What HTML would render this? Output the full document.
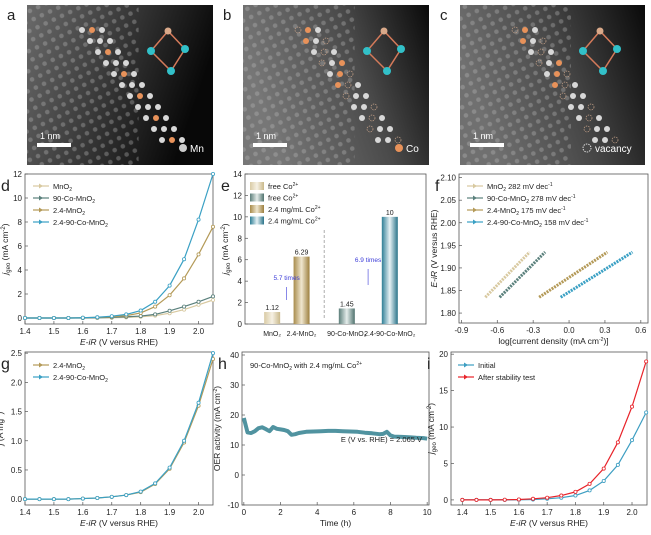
<!DOCTYPE html>
<html><head><meta charset="utf-8"><style>
body{margin:0;background:#fff;}
#wrap{position:relative;width:651px;height:535px;overflow:hidden;font-family:"Liberation Sans",sans-serif;}
svg text{font-family:"Liberation Sans",sans-serif;}
</style></head><body>
<div id="wrap">
<svg id="fig" width="651" height="535" viewBox="0 0 651 535" xmlns="http://www.w3.org/2000/svg">
<defs>
<linearGradient id="imgA" x1="0" y1="0" x2="1" y2="0.3"><stop offset="0" stop-color="#6a6a6a"/><stop offset="0.5" stop-color="#3a3a3a"/><stop offset="1" stop-color="#080808"/></linearGradient>
<linearGradient id="imgB" x1="0" y1="0.3" x2="1" y2="0"><stop offset="0" stop-color="#777"/><stop offset="0.55" stop-color="#4a4a4a"/><stop offset="1" stop-color="#0a0a0a"/></linearGradient>
<linearGradient id="imgC" x1="0" y1="0.3" x2="1" y2="0"><stop offset="0" stop-color="#707070"/><stop offset="0.5" stop-color="#454545"/><stop offset="1" stop-color="#0a0a0a"/></linearGradient>
<pattern id="lattice" width="9" height="9" patternUnits="userSpaceOnUse" patternTransform="rotate(-25)"><circle cx="4.5" cy="4.5" r="2.3" fill="#bbb" opacity="0.35"/></pattern>
<linearGradient id="barBeige" x1="0" x2="1"><stop offset="0" stop-color="#d9cba5"/><stop offset="0.5" stop-color="#f6f1e4"/><stop offset="1" stop-color="#c9b88a"/></linearGradient>
<linearGradient id="barGold" x1="0" x2="1"><stop offset="0" stop-color="#a88c4c"/><stop offset="0.5" stop-color="#efe6cf"/><stop offset="1" stop-color="#9c7f3e"/></linearGradient>
<linearGradient id="barGrey" x1="0" x2="1"><stop offset="0" stop-color="#5d7f7b"/><stop offset="0.5" stop-color="#e4ecea"/><stop offset="1" stop-color="#4f726e"/></linearGradient>
<linearGradient id="barBlue" x1="0" x2="1"><stop offset="0" stop-color="#2f7f96"/><stop offset="0.5" stop-color="#e6f1f4"/><stop offset="1" stop-color="#2a7389"/></linearGradient>
</defs>
<g id="root"></g>
</svg>
</div>
<script>
// ---------- data ----------
const vGrid = [1.40,1.45,1.50,1.55,1.60,1.65,1.70,1.75,1.80,1.85,1.90,1.95,2.00,2.05];
const dMnO2 = [0,0,0,0,0,0.01,0.02,0.05,0.1,0.2,0.4,0.7,1.1,1.5];
const d90Co = [0,0,0,0,0,0.02,0.05,0.1,0.16,0.3,0.6,0.95,1.35,1.8];
const d24Mn = [0,0,0,0,0.02,0.05,0.1,0.2,0.42,0.95,1.9,3.3,5.3,7.6];
const d2490 = [0,0,0,0,0.02,0.06,0.15,0.3,0.62,1.35,2.7,4.9,8.2,12];
const eCats = ["MnO\u2082","2.4-MnO\u2082","90-Co-MnO\u2082","2.4-90-Co-MnO\u2082"];
const eVals = [1.12,6.29,1.45,10];
const eLabels = ["1.12","6.29","1.45","10"];
const fMnO2 = [[-0.70,1.835],[-0.33,1.935]];
const f90Co = [[-0.58,1.835],[-0.20,1.935]];
const f24Mn = [[-0.25,1.835],[0.32,1.935]];
const f2490 = [[-0.07,1.835],[0.53,1.935]];
const g24Mn = [0,0,0,0,0.01,0.02,0.04,0.07,0.12,0.26,0.52,0.97,1.6,2.4];
const g2490 = [0,0,0,0,0.01,0.02,0.04,0.07,0.13,0.27,0.54,1.0,1.65,2.5];
const hTime = [0,0.2,0.4,0.6,0.8,1.0,1.2,1.4,1.6,1.8,2.0,2.2,2.4,2.6,2.8,3.0,3.4,3.8,4.2,4.6,5.0,5.4,5.8,6.2,6.6,7.0,7.4,7.6,7.8,8.0,8.2,8.6,9.0,9.4,9.8,10];
const hVals = [19,14.2,14.0,14.6,15.6,15.9,15.3,14.6,16.0,15.4,15.2,15.0,14.6,13.4,13.6,14.0,14.4,14.5,14.6,14.7,14.7,14.6,14.5,14.4,14.1,13.9,13.6,13.7,14.4,13.2,12.8,12.7,12.6,12.4,12.3,12.1];
const hTicksX = [0,2,4,6,8,10];
const hTicksY = [-10,0,10,20,30,40];
const iInit = [0,0,0,0,0.02,0.06,0.15,0.3,0.6,1.3,2.6,4.8,8.2,12];
const iAfter = [0,0,0,0.02,0.06,0.15,0.3,0.6,1.1,2.2,4.3,7.9,12.8,19];

const NS="http://www.w3.org/2000/svg";
const root=document.getElementById('root');
function mk(tag,attrs,parent){const e=document.createElementNS(NS,tag);for(const k in attrs)e.setAttribute(k,attrs[k]);(parent||root).appendChild(e);return e;}
function txt(x,y,s,size,parent,anchor,extra){const t=mk('text',Object.assign({x:x,y:y,'font-size':size,'text-anchor':anchor||'start',fill:'#222'},extra||{}),parent);t.innerHTML=s;return t;}
function scale(d0,d1,r0,r1){return v=>r0+(v-d0)/(d1-d0)*(r1-r0);}

// ---------- images a,b,c ----------
function micro(x,y,w,h,grad,name,letter,label,kind){
  const g=mk('g',{});
  
  
  mk('rect',{x:x,y:y,width:w,height:h,fill:'url(#'+grad+')'},g);
  mk('rect',{x:x,y:y,width:w*0.6,height:h,fill:'url(#lattice)'},g);
  for(let r=0;r<3;r++)for(let i=0;i<12;i++){
    const cx=x+55+r*10+i*8, cy=y+25+i*11;
    if(cx>x+w-10||cy>y+h-15)continue;
    const orange=(kind!=='a'&&(i+r)%4===1)||(kind==='a'&&r===1&&i%2===0);
    if(kind!=='a'&&(i+r)%3===0){mk('circle',{cx:cx,cy:cy,r:3,fill:'none',stroke:'#c9a48a','stroke-width':0.7,'stroke-dasharray':'1.5 1'},g);}
    else mk('circle',{cx:cx,cy:cy,r:3,fill:orange?'#e8925a':'#d8d8d8'},g);
  }
  const sx=x+w-70, sy=y+18;
  mk('path',{d:`M${sx+8} ${sy+28} L${sx+25} ${sy+8} L${sx+42} ${sy+26} L${sx+28} ${sy+48} Z`,fill:'none',stroke:'#d47a5a','stroke-width':1.5},g);
  mk('circle',{cx:sx+25,cy:sy+8,r:3.5,fill:'#d9a98a'},g);
  [[sx+8,sy+28],[sx+42,sy+26],[sx+28,sy+48]].forEach(p=>mk('circle',{cx:p[0],cy:p[1],r:4,fill:'#32c0c8'},g));
  mk('rect',{x:x+10,y:y+h-22,width:34,height:4,fill:'#fff'},g);
  txt(x+13,y+h-26,'1 nm',9,g,'start',{fill:'#fff'});
  if(kind==='c')mk('circle',{cx:x+w-58,cy:y+h-17,r:4,fill:'none',stroke:'#ddd','stroke-dasharray':'1.5 1'},g);
  else mk('circle',{cx:x+w-30,cy:y+h-17,r:4,fill:kind==='a'?'#ccc':'#e8925a'},g);
  txt(x+w-(kind==='c'?50:23),y+h-13,label,10,g,'start',{fill:'#fff'});
  const L=txt(x-20,y+15,letter,15,null);
  
  
}
micro(27,5,186,160,'imgA','stem-image-a','a','Mn','a');
micro(243,5,186,160,'imgB','stem-image-b','b','Co','b');
micro(460,5,185,160,'imgC','stem-image-c','c','vacancy','c');

// ---------- axes helper ----------
function axes(name,L,T,R,B,xd,yd,xt,yt,xfmt,yfmt,xtitle,ytitle,letter){
  const g=mk('g',{});
  
  
  mk('rect',{x:L,y:T,width:R-L,height:B-T,fill:'none',stroke:'#555','stroke-width':0.8},g);
  const sx=scale(xd[0],xd[1],L,R), sy=scale(yd[0],yd[1],B,T);
  xt.forEach(v=>{const X=sx(v);mk('line',{x1:X,y1:B,x2:X,y2:B-3,stroke:'#555','stroke-width':0.7},g);if(xfmt){txt(X,B+10,xfmt(v),8,g,'middle');}});
  yt.forEach(v=>{const Y=sy(v);mk('line',{x1:L,y1:Y,x2:L+3,y2:Y,stroke:'#555','stroke-width':0.7},g);txt(L-3,Y+3,yfmt(v),8,g,'end');});
  if(xtitle){const t=txt((L+R)/2,B+21,xtitle,8.5,g,'middle');}
  const yt2=txt(0,0,ytitle,8.5,g,'middle',{transform:`translate(${L-(yfmt(yt[0]).length>2?22:17)},${(T+B)/2}) rotate(-90)`});
  
  
  const lt=txt(L-24,T+17,letter,16,g);
  
  
  return {g,sx,sy};
}
function series(ax,xs,ys,color,name,marker){
  const pts=xs.map((x,i)=>ax.sx(x)+','+ax.sy(ys[i])).join(' ');
  const p=mk('polyline',{points:pts,fill:'none',stroke:color,'stroke-width':1.2},ax.g);
  
  
  if(marker!==false)xs.forEach((x,i)=>{const c=mk('circle',{cx:ax.sx(x),cy:ax.sy(ys[i]),r:1.6,fill:'#fff',stroke:color,'stroke-width':0.8},ax.g);
    
    });
}
function legend(ax,x,y,items,dy){
  items.forEach((it,i)=>{
    const Y=y+i*(dy||12);
    mk('line',{x1:x,y1:Y,x2:x+16,y2:Y,stroke:it[1],'stroke-width':1.2},ax.g);
    mk('path',{d:`M${x+6} ${Y-2.5} L${x+10} ${Y} L${x+6} ${Y+2.5} Z`,fill:it[1]},ax.g);
    const t=txt(x+20,Y+3,it[0],7.5,ax.g);
    
    
  });
}
const f1=v=>v.toFixed(1), f0=v=>String(v);
const vTicks=[1.4,1.5,1.6,1.7,1.8,1.9,2.0];
const C={mn:'#d8c9a0',co:'#5a807c',g24:'#b49a58',b:'#3aa0c4'};
const jg='<tspan font-style="italic">j</tspan><tspan font-size="6" dy="2">geo</tspan><tspan dy="-2"> (mA cm</tspan><tspan font-size="6" dy="-3">-2</tspan><tspan dy="3">)</tspan>';
const xv='<tspan font-style="italic">E</tspan>-<tspan font-style="italic">iR</tspan> (V versus RHE)';
const sub2='<tspan font-size="5" dy="2">2</tspan>';

// d
const ad=axes('chart-d',25,174,213,324,[1.4,2.05],[-0.5,12],vTicks,[0,2,4,6,8,10,12],f1,f0,xv,jg,'d');
series(ad,vGrid,dMnO2,C.mn,'series-d-mno2');
series(ad,vGrid,d90Co,C.co,'series-d-90co');
series(ad,vGrid,d24Mn,C.g24,'series-d-24mno2');
series(ad,vGrid,d2490,C.b,'series-d-2490');
legend(ad,33,186,[['MnO'+sub2,C.mn],['90-Co-MnO'+sub2,C.co],['2.4-MnO'+sub2,C.g24],['2.4-90-Co-MnO'+sub2,C.b]],12);

// e
const ae=axes('chart-e',245,174,426,324,[0,4],[0,14],[],[0,2,4,6,8,10,12,14],null,f0,null,jg,'e');
const barX=[0.6,1.25,2.25,3.2], fills=['barBeige','barGold','barGrey','barBlue'];
mk('line',{x1:ae.sx(1.75),y1:230,x2:ae.sx(1.75),y2:318,stroke:'#999','stroke-dasharray':'3 2','stroke-width':0.8},ae.g);
eVals.forEach((v,i)=>{
  const cx=ae.sx(barX[i]);
  const r=mk('rect',{x:cx-8,y:ae.sy(v),width:16,height:ae.sy(0)-ae.sy(v),fill:'url(#'+fills[i]+')'},ae.g);
  
  
  txt(cx,ae.sy(v)-2,eLabels[i],7,ae.g,'middle');
  const c=txt(cx,336,eCats[i],7,ae.g,'middle');
  
  
});
txt(ae.sx(0.92),280,'5.7 times',6.5,ae.g,'middle',{fill:'#3b3bd8'});
mk('line',{x1:ae.sx(0.92),y1:300,x2:ae.sx(0.92),y2:287,stroke:'#3b3bd8','stroke-width':0.6},ae.g);
txt(ae.sx(2.72),262,'6.9 times',6.5,ae.g,'middle',{fill:'#3b3bd8'});
mk('line',{x1:ae.sx(2.72),y1:285,x2:ae.sx(2.72),y2:269,stroke:'#3b3bd8','stroke-width':0.6},ae.g);
[['free Co<tspan font-size="5" dy="-3">2+</tspan>','barBeige'],['free Co<tspan font-size="5" dy="-3">2+</tspan>','barGrey'],['2.4 mg/mL Co<tspan font-size="5" dy="-3">2+</tspan>','barGold'],['2.4 mg/mL Co<tspan font-size="5" dy="-3">2+</tspan>','barBlue']].forEach((it,i)=>{
  const Y=186+i*11.5;
  mk('rect',{x:250,y:Y-4,width:14,height:8,fill:'url(#'+it[1]+')'},ae.g);
  const t=txt(268,Y+3,it[0],7.5,ae.g);
  
  
});

// f
const af=axes('chart-f',459,174,648,323,[-0.92,0.66],[1.778,2.108],[-0.9,-0.6,-0.3,0,0.3,0.6],[1.8,1.85,1.9,1.95,2.0,2.05,2.1],v=>v.toFixed(1),v=>v.toFixed(2),'log[current density (mA cm<tspan font-size="5" dy="-3">-2</tspan><tspan dy="3">)]</tspan>','<tspan font-style="italic">E</tspan>-<tspan font-style="italic">iR</tspan> (V versus RHE)','f');
[[fMnO2,C.mn,'series-f-mno2'],[f90Co,C.co,'series-f-90co'],[f24Mn,C.g24,'series-f-24mno2'],[f2490,C.b,'series-f-2490']].forEach(s=>{
  const p=mk('line',{x1:af.sx(s[0][0][0]),y1:af.sy(s[0][0][1]),x2:af.sx(s[0][1][0]),y2:af.sy(s[0][1][1]),stroke:s[1],'stroke-width':3,'stroke-dasharray':'2 1'},af.g);
  
  
});
legend(af,467,186,[['MnO'+sub2+'<tspan dy="-2"> 282 mV dec</tspan><tspan font-size="5" dy="-3">-1</tspan>',C.mn],['90-Co-MnO'+sub2+'<tspan dy="-2"> 278 mV dec</tspan><tspan font-size="5" dy="-3">-1</tspan>',C.co],['2.4-MnO'+sub2+'<tspan dy="-2"> 175 mV dec</tspan><tspan font-size="5" dy="-3">-1</tspan>',C.g24],['2.4-90-Co-MnO'+sub2+'<tspan dy="-2"> 158 mV dec</tspan><tspan font-size="5" dy="-3">-1</tspan>',C.b]],12);

// g
const ag=axes('chart-g',25,352,213,505,[1.4,2.05],[-0.1,2.52],vTicks,[0,0.5,1,1.5,2,2.5],f1,f1,xv,'<tspan font-style="italic">j</tspan> (A mg<tspan font-size="5" dy="-3">-1</tspan><tspan dy="3">)</tspan>','g');
series(ag,vGrid,g24Mn,C.g24,'series-g-24mno2');
series(ag,vGrid,g2490,C.b,'series-g-2490');
legend(ag,33,365,[['2.4-MnO'+sub2,C.g24],['2.4-90-Co-MnO'+sub2,C.b]],12);

// h
const ah=axes('chart-h',242,352,429,505,[-0.1,10.1],[-10,41],hTicksX,hTicksY,f0,f0,'Time (h)','OER activity (mA cm<tspan font-size="5" dy="-3">-2</tspan><tspan dy="3">)</tspan>','h');
(function(){const pts=hTime.map((t,i)=>ah.sx(t)+','+ah.sy(hVals[i])).join(' ');
const p=mk('polyline',{points:pts,fill:'none',stroke:'#3d8796','stroke-width':4,'stroke-linejoin':'round',opacity:0.9},ah.g);

})();
txt(250,368,'90-Co-MnO'+sub2+'<tspan dy="-2"> with 2.4 mg/mL Co</tspan><tspan font-size="5" dy="-3">2+</tspan>',7.5,ah.g);
txt(422,442,'E (V vs. RHE) = 2.065 V',7.5,ah.g,'end');

// i
const ai=axes('chart-i',451,352,647,505,[1.36,2.053],[-0.7,20.3],vTicks,[0,5,10,15,20],f1,f0,xv,jg,'i');
series(ai,vGrid,iInit,'#3d9ec2','series-i-initial');
series(ai,vGrid,iAfter,'#e8232a','series-i-after');
legend(ai,458,365,[['Initial','#3d9ec2'],['After stability test','#e8232a']],12);
</script>
</body></html>
